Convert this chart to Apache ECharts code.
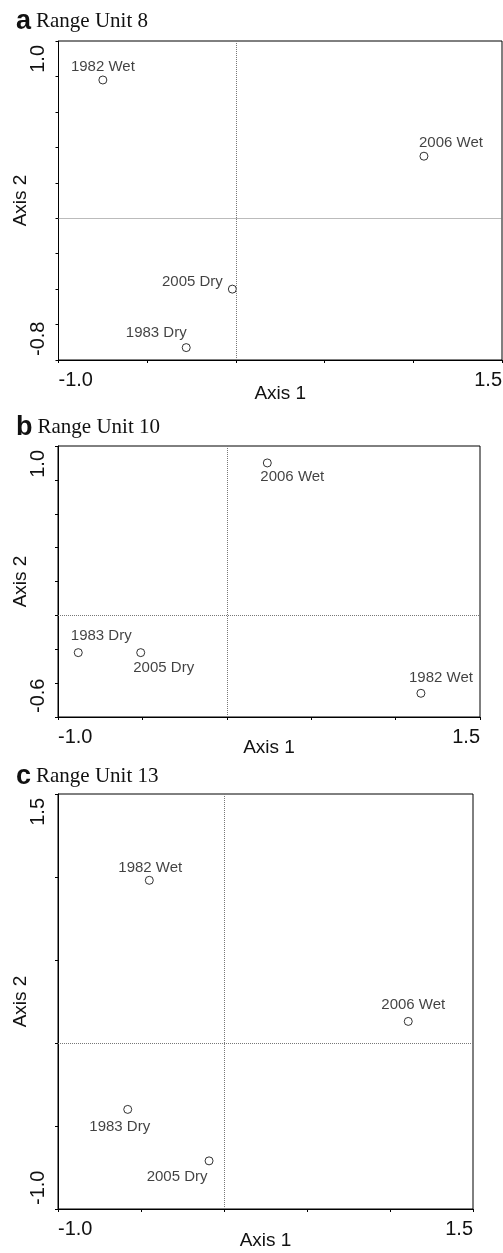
<!DOCTYPE html>
<html>
<head>
<meta charset="utf-8">
<script src="https://cdn.jsdelivr.net/npm/echarts@6/dist/echarts.min.js"></script>
<style>
html, body { margin: 0; padding: 0; background: #fff; }
#main { width: 503px; height: 1253px; }
</style>
</head>
<body>
<div id="main"></div>
<script>
var sampleNames = ['1982 Wet', '1983 Dry', '2005 Dry', '2006 Wet'];
var panelLetters = ['a', 'b', 'c'];
var panelTitles = ['Range Unit 8', 'Range Unit 10', 'Range Unit 13'];

// scores, same order as sampleNames
var unit8Axis1 = [-0.75, -0.28, -0.02, 1.06];
var unit8Axis2 = [0.78, -0.73, -0.40, 0.35];
var unit10Axis1 = [1.15, -0.88, -0.51, 0.24];
var unit10Axis2 = [-0.46, -0.22, -0.22, 0.90];
var unit13Axis1 = [-0.45, -0.58, -0.09, 1.11];
var unit13Axis2 = [0.98, -0.40, -0.71, 0.13];

var axis1Range = [-1.0, 1.5, 0.5];
var axis2Ranges = [[-0.8, 1.0, 0.2], [-0.6, 1.0, 0.2], [-1.0, 1.5, 0.5]];

var SANS = 'Liberation Sans, Arial, sans-serif';
var SERIF = 'Liberation Serif, Times New Roman, serif';

// label placement per point: [position, dx, dy]
var labelPlaces = [
    [['top', 0, 4], ['top', -30, 2], ['left', 0, -7], ['top', 27, 4]],
    [['top', 20, 2], ['top', 23, 0], ['bottom', 23, -2], ['bottom', 25, -3]],
    [['top', 1, 5], ['bottom', -8, 0], ['bottom', -32, -1], ['top', 5, 0]]
];

var grids = [
    {left: 58.5, top: 41, width: 443.5, height: 319},
    {left: 58, top: 446, width: 422, height: 271},
    {left: 58, top: 794, width: 415, height: 415}
];
var titleTops = [3, 409, 758];
var xNameGaps = [24, 21, 22];

function endsOnly(min, max) {
    return function (v) {
        if (Math.abs(v - min) < 1e-6 || Math.abs(v - max) < 1e-6) {
            return v.toFixed(1);
        }
        return '';
    };
}

var xs = [unit8Axis1, unit10Axis1, unit13Axis1];
var ys = [unit8Axis2, unit10Axis2, unit13Axis2];

var option = {
    backgroundColor: '#fff',
    animation: false,
    title: [],
    grid: [],
    xAxis: [],
    yAxis: [],
    series: []
};

for (var p = 0; p < 3; p++) {
    option.title.push({
        left: 11,
        top: titleTops[p],
        text: '{b|' + panelLetters[p] + '} {s|' + panelTitles[p] + '}',
        textStyle: {
            fontWeight: 'normal',
            rich: {
                b: {fontFamily: SANS, fontWeight: 'bold', fontSize: 27, color: '#111'},
                s: {fontFamily: SERIF, fontWeight: 'normal', fontSize: 21, color: '#111'}
            }
        }
    });
    option.grid.push({
        left: grids[p].left,
        top: grids[p].top,
        width: grids[p].width,
        height: grids[p].height,
        show: true,
        borderColor: '#000',
        borderWidth: 1,
        outerBoundsMode: 'none'
    });
    option.xAxis.push({
        gridIndex: p,
        type: 'value',
        min: axis1Range[0],
        max: axis1Range[1],
        interval: axis1Range[2],
        name: 'Axis 1',
        nameLocation: 'middle',
        nameGap: xNameGaps[p],
        nameMoveOverlap: false,
        nameTextStyle: {fontFamily: SANS, fontSize: 19, color: '#111'},
        axisLine: {onZero: false, lineStyle: {color: '#000', width: 1}},
        axisTick: {show: true, length: 3, lineStyle: {color: '#000'}},
        splitLine: {show: false},
        axisLabel: {
            fontFamily: SANS, fontSize: 20, color: '#111', margin: 10,
            formatter: endsOnly(axis1Range[0], axis1Range[1]),
            alignMinLabel: 'left',
            alignMaxLabel: 'right'
        }
    });
    var yr = axis2Ranges[p];
    option.yAxis.push({
        gridIndex: p,
        type: 'value',
        min: yr[0],
        max: yr[1],
        interval: yr[2],
        name: 'Axis 2',
        nameLocation: 'middle',
        nameGap: 28,
        nameMoveOverlap: false,
        nameTextStyle: {fontFamily: SANS, fontSize: 19, color: '#111'},
        axisLine: {show: true, onZero: false, lineStyle: {color: '#000', width: 1}},
        axisTick: {show: true, length: 3, lineStyle: {color: '#000'}},
        splitLine: {show: false},
        axisLabel: {
            rotate: 90, fontFamily: SANS, fontSize: 20, color: '#111', margin: 10,
            formatter: endsOnly(yr[0], yr[1]),
            alignMinLabel: 'left',
            alignMaxLabel: 'right',
            padding: [0, 4, 0, 4]
        }
    });

    var pts = [];
    for (var i = 0; i < sampleNames.length; i++) {
        var lp = labelPlaces[p][i];
        pts.push({
            name: sampleNames[i],
            value: [xs[p][i], ys[p][i]],
            label: {position: lp[0], offset: [lp[1], lp[2]]}
        });
    }
    option.series.push({
        type: 'scatter',
        xAxisIndex: p,
        yAxisIndex: p,
        symbol: 'circle',
        symbolSize: 8,
        itemStyle: {color: '#fff', borderColor: '#000', borderWidth: 1},
        label: {
            show: true,
            formatter: '{b}',
            fontFamily: SANS,
            fontSize: 15,
            color: '#111',
            distance: 5
        },
        data: pts,
        markLine: {
            silent: true,
            symbol: 'none',
            label: {show: false},
            lineStyle: {type: 'dotted', color: '#777', width: 1},
            data: [{xAxis: 0}, {yAxis: 0}]
        }
    });
}

var chart = echarts.init(document.getElementById('main'));
chart.setOption(option);
</script>
</body>
</html>
